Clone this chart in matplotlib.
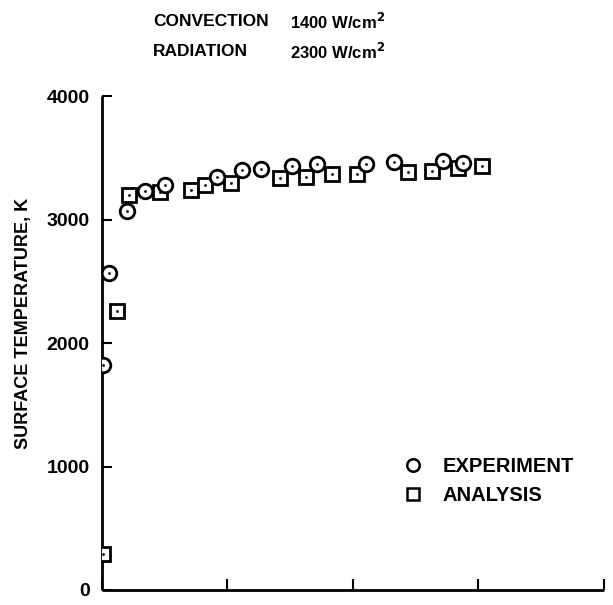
import numpy as np
import matplotlib.pyplot as plt

plt.rcParams['font.family'] = ['Liberation Sans', 'DejaVu Sans']
plt.rcParams['font.weight'] = 'bold'

# experiment (circles)
exp_x = [0.01, 0.058, 0.20, 0.343, 0.50, 0.914, 1.113, 1.265, 1.512, 1.711,
         2.10, 2.33, 2.715, 2.88]
exp_t = [1819, 2569, 3069, 3231, 3279, 3346, 3401, 3409, 3433, 3449,
         3449, 3468, 3474, 3460]

# analysis (squares)
ana_x = [0.006, 0.117, 0.218, 0.462, 0.709, 0.821, 1.025, 1.418, 1.623, 1.835,
         2.029, 2.44, 2.627, 2.84, 3.03]
ana_t = [289, 2259, 3198, 3225, 3239, 3279, 3298, 3339, 3347, 3366,
         3366, 3387, 3395, 3415, 3433]

yticks = [0, 1000, 2000, 3000, 4000]
xticks = [0, 1, 2, 3, 4]

fig = plt.figure(figsize=(6.13, 6.05), dpi=100)
ax = fig.add_axes([0.1664, 0.0248, 0.8189, 0.8165])

ax.plot(ana_x, ana_t, 's', ms=10, mfc='white', mec='black', mew=2,
        label='ANALYSIS', zorder=3)
ax.plot(exp_x, exp_t, 'o', ms=10.5, mfc='white', mec='black', mew=2,
        label='EXPERIMENT', zorder=4)
ax.plot(ana_x, ana_t, '.', ms=2, color='black', zorder=3.5)
ax.plot(exp_x, exp_t, '.', ms=2, color='black', zorder=4.5)

ax.set_xlim(0, 4)
ax.set_ylim(0, 4000)
ax.set_xticks(xticks)
ax.set_xticklabels([])
ax.set_yticks(yticks)
ax.set_yticklabels([str(v) for v in yticks], fontsize=14, fontweight='bold')
ax.tick_params(direction='in', length=7, width=1.5, pad=9)
ax.tick_params(axis='x', length=8)
for s in ['top', 'right']:
    ax.spines[s].set_visible(False)
for s in ['left', 'bottom']:
    ax.spines[s].set_linewidth(2)
    ax.spines[s].set_capstyle('butt')

fig.text(24 / 613, 1 - 323 / 605, 'SURFACE TEMPERATURE, K', fontsize=13,
         rotation=90, ha='center', va='center')

h, l = ax.get_legend_handles_labels()
leg = ax.legend(h[::-1], l[::-1], loc='upper left',
                bbox_to_anchor=(396 / 613, 1 - 447 / 605),
                bbox_transform=fig.transFigure, frameon=False,
                prop={'size': 14.5, 'weight': 'bold'}, handletextpad=1.1,
                labelspacing=0.5, handlelength=0.7, borderpad=0)
for hd in leg.legend_handles:
    hd.set_markersize(9)
    hd.set_markeredgewidth(1.8)

fig.text(153 / 613, 1 - 22 / 605, 'CONVECTION', fontsize=12.5, va='center')
fig.text(153 / 613, 1 - 52 / 605, 'RADIATION', fontsize=12.5, va='center')
fig.text(290 / 613, 1 - 22 / 605, r'1400 W/cm$^\mathbf{2}$', fontsize=12,
         va='center')
fig.text(290 / 613, 1 - 52 / 605, r'2300 W/cm$^\mathbf{2}$', fontsize=12,
         va='center')

fig.savefig('out.png', dpi=100)
